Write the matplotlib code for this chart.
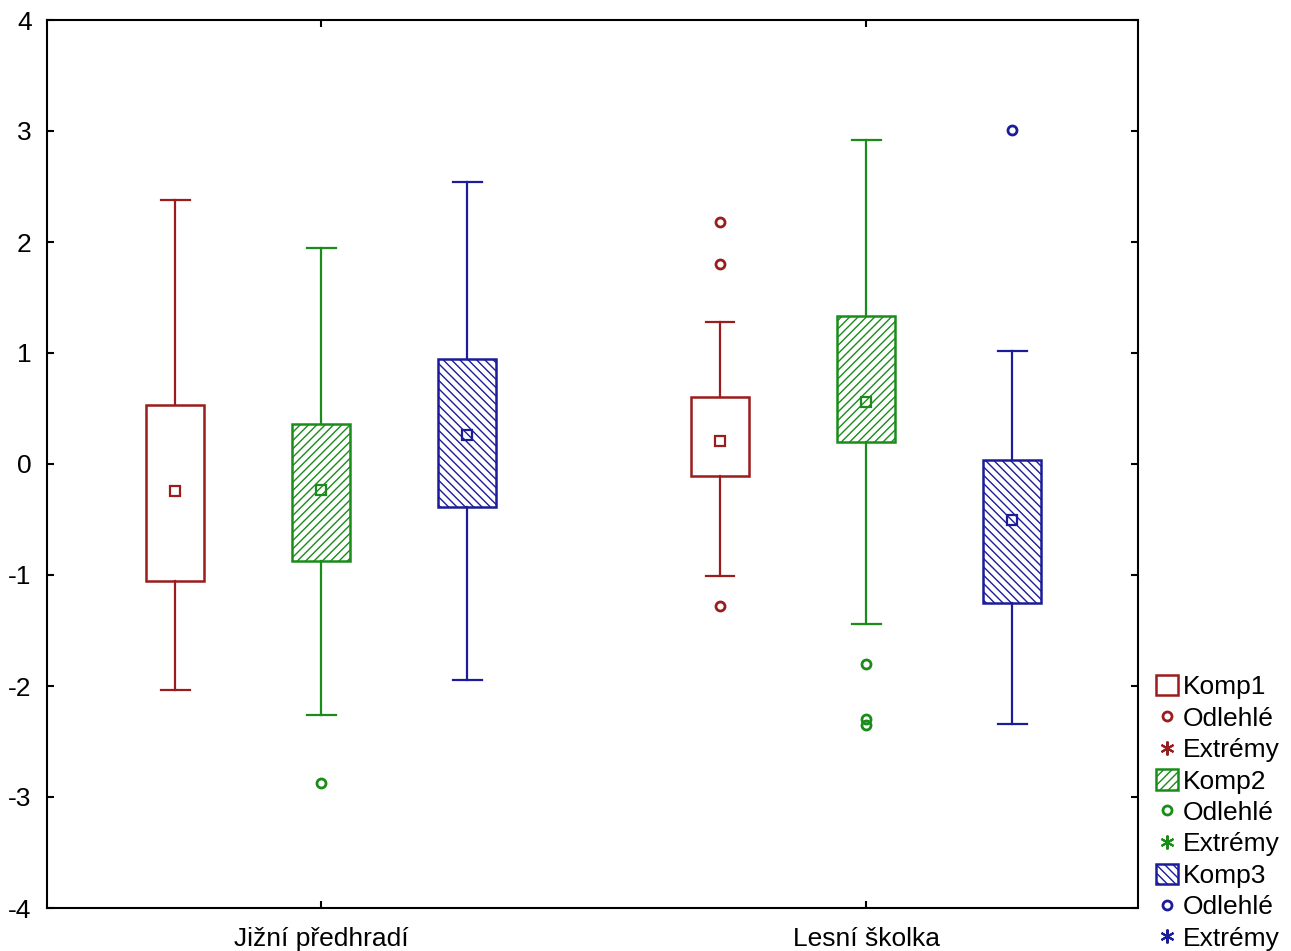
import matplotlib
matplotlib.use('Agg')
import matplotlib.pyplot as plt
from matplotlib.patches import Patch
from matplotlib.lines import Line2D

plt.rcParams['font.family'] = ['Liberation Sans', 'DejaVu Sans']
plt.rcParams['hatch.linewidth'] = 1.0
plt.rcParams['axes.unicode_minus'] = False

#%% Data
groups = ['Jižní předhradí', 'Lesní školka']
series = ['Komp1', 'Komp2', 'Komp3']
colors = ['#9b1c1c', '#1a8c1a', '#1c1c9b']
hatches = [None, '////', '\\\\\\\\']

# per series: one value for each group
whis_hi = {'Komp1': [2.38, 1.28], 'Komp2': [1.95, 2.92], 'Komp3': [2.54, 1.02]}
q3      = {'Komp1': [0.53, 0.60], 'Komp2': [0.36, 1.33], 'Komp3': [0.95, 0.04]}
means   = {'Komp1': [-0.24, 0.21], 'Komp2': [-0.23, 0.56], 'Komp3': [0.26, -0.50]}
q1      = {'Komp1': [-1.05, -0.11], 'Komp2': [-0.87, 0.20], 'Komp3': [-0.39, -1.25]}
whis_lo = {'Komp1': [-2.04, -1.01], 'Komp2': [-2.26, -1.44], 'Komp3': [-1.95, -2.34]}
outliers = {'Komp1': [[], [2.18, 1.80, -1.28]],
            'Komp2': [[-2.87], [-1.80, -2.30, -2.35]],
            'Komp3': [[], [3.01]]}

#%% Plot
fig = plt.figure(figsize=(12.91, 9.51), dpi=100)
ax = fig.add_axes([47 / 1291, 1 - 908 / 951, (1138 - 47) / 1291, (908 - 20) / 951])

offsets = [-0.268, 0.0, 0.268]
width = 0.106

for s, name in enumerate(series):
    c = colors[s]
    stats = []
    for g in range(len(groups)):
        stats.append(dict(med=means[name][g], q1=q1[name][g], q3=q3[name][g],
                          whislo=whis_lo[name][g], whishi=whis_hi[name][g],
                          mean=means[name][g], fliers=outliers[name][g]))
    pos = [g + offsets[s] for g in range(len(groups))]
    bp = ax.bxp(stats, positions=pos, widths=width, patch_artist=True,
                showmeans=True, manage_ticks=False,
                boxprops=dict(facecolor='white', edgecolor=c, linewidth=1.8),
                whiskerprops=dict(color=c, linewidth=1.6),
                capprops=dict(color=c, linewidth=1.6),
                medianprops=dict(visible=False),
                meanprops=dict(marker='s', markersize=7.5, markerfacecolor='none',
                               markeredgecolor=c, markeredgewidth=1.6),
                flierprops=dict(marker='o', markersize=6.5, markerfacecolor='none',
                                markeredgecolor=c, markeredgewidth=2))
    for b in bp['boxes']:
        if hatches[s]:
            b.set_hatch(hatches[s])

ax.set_xlim(-0.503, 1.499)
ax.set_ylim(-4, 4)
ax.set_yticks(range(-4, 5))
ax.set_xticks(range(len(groups)))
ax.set_xticklabels(groups)
ax.tick_params(direction='in', length=5, width=1.5, top=True, right=True,
               labelsize=19)
ax.tick_params(axis='x', pad=14)
ax.tick_params(axis='y', pad=11)
for sp in ax.spines.values():
    sp.set_linewidth(1.5)

handles = []
labels = []
for s, name in enumerate(series):
    c = colors[s]
    handles.append(Patch(facecolor='white', edgecolor=c, hatch=hatches[s], linewidth=1.8))
    labels.append(name)
    handles.append(Line2D([], [], linestyle='none', marker='o', markersize=6.5,
                          markerfacecolor='none', markeredgecolor=c, markeredgewidth=2))
    labels.append('Odlehlé')
    handles.append(Line2D([], [], linestyle='none', marker=(6, 2, 0), markersize=10,
                          markeredgecolor=c, markeredgewidth=1.5))
    labels.append('Extrémy')

fig.legend(handles, labels, loc='lower left', bbox_to_anchor=(1138 / 1291, -0.019),
           frameon=False, fontsize=19, handlelength=0.8, handleheight=0.8,
           handletextpad=0.2, labelspacing=0.27, borderpad=0.2)

plt.savefig('out.png', dpi=100)
